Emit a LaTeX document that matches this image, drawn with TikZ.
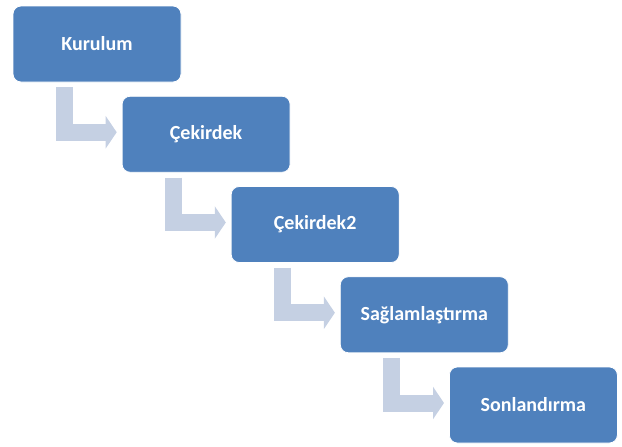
\documentclass[tikz,border=0pt]{standalone}
\usepackage{fontspec}
\setmainfont{Carlito}
\usetikzlibrary{arrows.meta}
\definecolor{boxblue}{HTML}{4F81BD}
\definecolor{linkblue}{HTML}{C5D0E3}
\begin{document}
\begin{tikzpicture}[x=1pt, y=-1pt,
    stage/.style={draw=white, line width=0.8pt, fill=boxblue, rounded corners=8pt,
        minimum width=168pt, minimum height=76pt, text=white,
        font=\fontsize{20}{24}\selectfont\bfseries},
    link/.style={draw=linkblue, line width=17pt, -{Triangle[width=32pt,length=11pt]},
        shorten >=5pt}]
    \useasboundingbox (0,0) rectangle (622,447);
    \foreach \name/\txt [count=\i from 0] in {kur/Kurulum, cek/Çekirdek, cekb/Çekirdek2,
            sag/Sağlamlaştırma, son/Sonlandırma} {
        \node[stage] (\name) at ({97+109.1*\i},{44+90.25*\i}) {\txt};
    }
    \foreach \a/\b in {kur/cek, cek/cekb, cekb/sag, sag/son} {
        \draw[link] ([xshift=-32.5pt,yshift=-5pt]\a.south) |- ([yshift=2pt]\b.west);
    }
\end{tikzpicture}
\end{document}
